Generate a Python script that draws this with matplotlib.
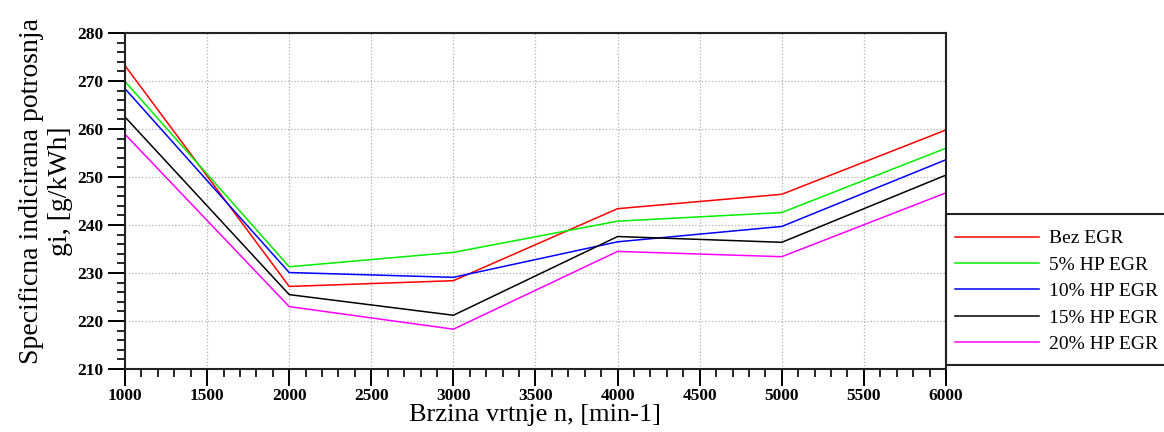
import numpy as np
import matplotlib
matplotlib.use("Agg")
import matplotlib.pyplot as plt
from matplotlib.patches import Rectangle
from matplotlib.ticker import MultipleLocator

plt.rcParams["font.family"] = ["Liberation Serif", "DejaVu Serif"]

# brzina vrtnje [min-1]
speed = [1000, 2000, 3000, 4000, 5000, 6000]

# specificna indicirana potrosnja gi [g/kWh]
bez_egr = [273.2, 227.2, 228.4, 243.4, 246.4, 259.8]
hp_egr_5 = [269.9, 231.3, 234.3, 240.8, 242.6, 256.0]
hp_egr_10 = [268.4, 230.1, 229.1, 236.5, 239.7, 253.6]
hp_egr_15 = [262.5, 225.5, 221.2, 237.6, 236.4, 250.4]
hp_egr_20 = [258.9, 223.0, 218.3, 234.5, 233.4, 246.7]

labels = ["Bez EGR", "5% HP EGR", "10% HP EGR", "15% HP EGR", "20% HP EGR"]
colors = ["#ff0000", "#00ee00", "#0000ff", "#000000", "#ff00ff"]

fig = plt.figure(figsize=(11.64, 4.32), dpi=100)
ax = fig.add_axes([0.1074, 0.1458, 0.7053, 0.7778])

series = [bez_egr, hp_egr_5, hp_egr_10, hp_egr_15, hp_egr_20]
handles = []
for vals, lab, c in zip(series, labels, colors):
    (h,) = ax.plot(speed, vals, color=c, lw=1.1, label=lab)
    handles.append(h)

ax.set_xlim(1000, 6000)
ax.set_ylim(210, 280)
ax.xaxis.set_major_locator(MultipleLocator(500))
ax.xaxis.set_minor_locator(MultipleLocator(100))
ax.yaxis.set_major_locator(MultipleLocator(10))
ax.yaxis.set_minor_locator(MultipleLocator(2))

ax.grid(True, which="major", linestyle=":", color="#b0b0b0", lw=0.9)
for s in ax.spines.values():
    s.set_linewidth(1.5)
    s.set_color("#222222")

ax.tick_params(which="major", direction="out", length=12, width=1.4, labelsize=12.5)
ax.tick_params(axis="x", which="major", pad=2)
ax.tick_params(which="minor", direction="out", length=6, width=1.2)
for t in ax.get_xticklabels() + ax.get_yticklabels():
    t.set_fontweight("bold")

ax.set_xlabel("Brzina vrtnje n, [min-1]", fontsize=19, labelpad=0)
ax.set_ylabel("Specificna indicirana potrosnja\ngi, [g/kWh]", fontsize=20,
              linespacing=1.25)
ax.yaxis.set_label_coords(-0.063, 0.53)

# okvir legende (izlazi izvan desnog ruba slike)
fig.patches.append(Rectangle((0.8127, 0.155), 0.3, 0.35, transform=fig.transFigure,
                             fill=False, edgecolor="#222222", lw=1.5))
fig.legend(handles=handles, loc="upper left", bbox_to_anchor=(0.814, 0.486),
           frameon=False, fontsize=14, handlelength=4.3, handletextpad=0.5,
           labelspacing=0.45, borderaxespad=0)

fig.savefig("out.png", dpi=100)
